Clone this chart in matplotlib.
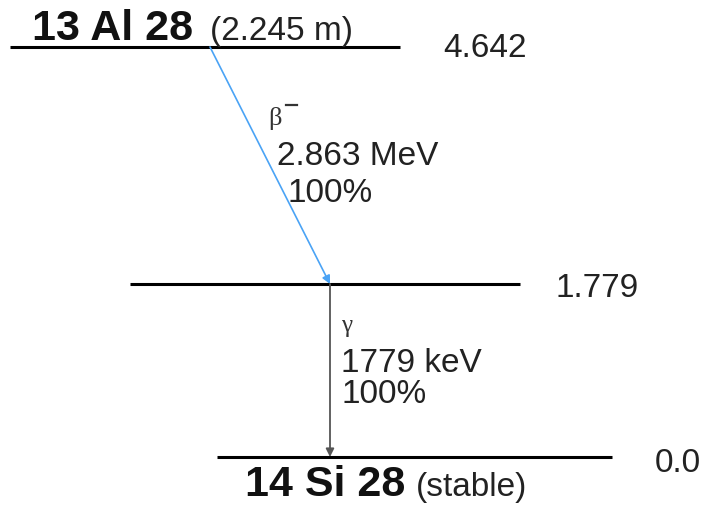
import matplotlib
matplotlib.use('Agg')
import matplotlib.pyplot as plt

plt.rcParams['font.family'] = ['Liberation Sans', 'DejaVu Sans']

# decay scheme data
parent = '13 Al 28'
parent_half_life = '(2.245 m)'
daughter = '14 Si 28'
daughter_note = '(stable)'
level_energies = ['4.642', '1.779', '0.0']
beta_labels = ['β', '2.863 MeV', '100%']
gamma_labels = ['γ', '1779 keV', '100%']

# layout in pixels (y grows downward)
level_y = [48, 285, 458]
level_x = [(10, 400), (130, 520), (217, 612)]
energy_x = [443, 555, 655]
energy_base = [57, 297, 472]

fig = plt.figure(figsize=(7.02, 5.06), dpi=100)
ax = fig.add_axes([0, 0, 1, 1])
ax.set_xlim(0, 702)
ax.set_ylim(506, 0)
ax.axis('off')

for (x0, x1), y, e, ex, eb in zip(level_x, level_y, level_energies, energy_x, energy_base):
    ax.plot([x0, x1], [y, y], color='black', lw=2.2, solid_capstyle='butt')
    ax.text(ex, eb, e, fontsize=24, va='baseline', ha='left', color='#222222')

# parent / daughter labels
ax.text(32, 40, parent, fontsize=31, fontweight='bold', va='baseline', color='#111111')
ax.text(210, 40, parent_half_life, fontsize=24, va='baseline', color='#222222')
ax.text(245, 496, daughter, fontsize=31, fontweight='bold', va='baseline', color='#111111')
ax.text(416, 496, daughter_note, fontsize=24, va='baseline', color='#222222')

# beta transition
ax.annotate('', xy=(330, level_y[1]), xytext=(210, level_y[0]),
            arrowprops=dict(arrowstyle='-|>', color='#4aa3f5', lw=1.2,
                            mutation_scale=12, shrinkA=0, shrinkB=0))
ax.text(268, 125, beta_labels[0], fontsize=19, va='baseline', color='#333333',
        family=['Liberation Serif', 'DejaVu Serif'])
ax.plot([286, 297], [106, 106], color='#333333', lw=1.6)
ax.text(277, 165, beta_labels[1], fontsize=24, va='baseline', color='#222222')
ax.text(288, 202, beta_labels[2], fontsize=24, va='baseline', color='#222222')

# gamma transition
ax.annotate('', xy=(330, level_y[2]), xytext=(330, level_y[1]),
            arrowprops=dict(arrowstyle='-|>', color='#555555', lw=1.3,
                            mutation_scale=12, shrinkA=0, shrinkB=0))
ax.text(341, 332, gamma_labels[0], fontsize=18, va='baseline', color='#333333',
        family=['Liberation Serif', 'DejaVu Serif'])
ax.text(341, 372, gamma_labels[1], fontsize=24, va='baseline', color='#222222')
ax.text(341, 403, gamma_labels[2], fontsize=24, va='baseline', color='#222222')

fig.savefig('out.png', dpi=100)
